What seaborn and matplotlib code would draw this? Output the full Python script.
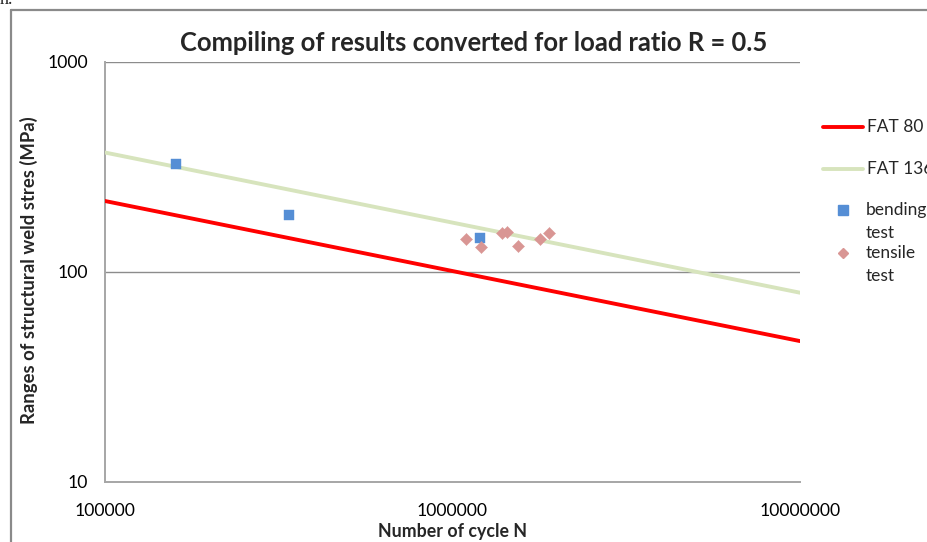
import matplotlib
matplotlib.use("Agg")
import matplotlib.pyplot as plt
from matplotlib.lines import Line2D
import seaborn as sns
import pandas as pd

# S-N design curves (end points over the plotted cycle range)
fat_cycles = [1e5, 1e7]
fat80_stress = [217.0, 46.8]
fat136_stress = [369.0, 79.5]

# Test results
bending_cycles = [160000, 338000, 1200000]
bending_stress = [324, 187, 144]
tensile_cycles = [1094000, 1208000, 1387000, 1435000, 1542000, 1786000, 1897000]
tensile_stress = [142.7, 130.6, 152.4, 154.2, 132.1, 142.7, 152.4]

x_ticks = [1e5, 1e6, 1e7]
x_tick_labels = ["100000", "1000000", "10000000"]
y_ticks = [10, 100, 1000]
y_tick_labels = ["10", "100", "1000"]

RED = "#FF0000"
GREEN = "#D7E4BD"
BLUE = "#558ED5"
PINK = "#D99694"
GRID = "#8C8C8C"
FONT = ["Lato", "DejaVu Sans"]

sns.set_style("white")
plt.rcParams["font.family"] = FONT

fig = plt.figure(figsize=(9.28, 5.42), dpi=100)
ax = fig.add_axes([105 / 928, 1 - 482 / 542, 695 / 928, (482 - 61.5) / 542])
ax.set_xscale("log")
ax.set_yscale("log")

curves = pd.DataFrame({
    "N": fat_cycles + fat_cycles,
    "S": fat80_stress + fat136_stress,
    "curve": ["FAT 80"] * 2 + ["FAT 136"] * 2,
})
sns.lineplot(data=curves, x="N", y="S", hue="curve",
             palette={"FAT 80": RED, "FAT 136": GREEN},
             linewidth=2.8, legend=False, ax=ax, zorder=3)

sns.scatterplot(x=bending_cycles, y=bending_stress, marker="s", s=55,
                color=BLUE, edgecolor=BLUE, linewidth=0.3, ax=ax, zorder=4)
sns.scatterplot(x=tensile_cycles, y=tensile_stress, marker="D", s=38,
                color=PINK, edgecolor=PINK, linewidth=0.3, ax=ax, zorder=4)

ax.set_xlim(1e5, 1e7)
ax.set_ylim(10, 1000)
ax.set_xticks(x_ticks)
ax.set_xticklabels(x_tick_labels)
ax.set_yticks(y_ticks)
ax.set_yticklabels(y_tick_labels)
ax.minorticks_off()
ax.tick_params(axis="both", length=0, labelsize=12.7, colors="black")
ax.tick_params(axis="x", pad=15)
ax.tick_params(axis="y", pad=12)

ax.grid(False)
for y in y_ticks[1:]:
    ax.axhline(y, color=GRID, linewidth=1.0, zorder=1)
for side in ("top", "right"):
    ax.spines[side].set_visible(False)
for side in ("left", "bottom"):
    ax.spines[side].set_color("#A6A6A6")
    ax.spines[side].set_linewidth(1.4)

ax.set_xlabel("")
ax.set_ylabel("")
fig.text(453 / 928, 1 - 532 / 542, "Number of cycle N", ha="center", va="center",
         fontsize=12.8, fontweight="bold")
fig.text(29 / 928, 1 - 270 / 542, "Ranges of structural weld stres (MPa)",
         ha="center", va="center", rotation=90, fontsize=13.3, fontweight="bold")
fig.text(474 / 928, 1 - 43 / 542, "Compiling of results converted for load ratio R = 0.5",
         ha="center", va="center", fontsize=18.4, fontweight="bold")

# Legend, laid out by hand to the right of the plot area
def fx(px):
    return px / 928

def fy(py):
    return 1 - py / 542

for ypx, col, lab in [(127, RED, "FAT 80"), (169, GREEN, "FAT 136")]:
    fig.add_artist(Line2D([fx(823), fx(863)], [fy(ypx), fy(ypx)], color=col,
                          linewidth=2.8, transform=fig.transFigure))
    fig.text(fx(867), fy(ypx), lab, ha="left", va="center", fontsize=12.5)

for ypx, col, mk, ms, lab in [(210, BLUE, "s", 7.4, "bending"), (253, PINK, "D", 5.6, "tensile")]:
    fig.add_artist(Line2D([fx(843)], [fy(ypx)], marker=mk, markersize=ms, color=col,
                          linestyle="none", transform=fig.transFigure))
    fig.text(fx(866), fy(ypx), lab, ha="left", va="center", fontsize=12.5)
    fig.text(fx(866), fy(ypx + 23), "test", ha="left", va="center", fontsize=12.5)

# Outer chart frame
frame_kw = dict(color="#8A8A8A", linewidth=1.6, transform=fig.transFigure)
fig.add_artist(Line2D([fx(11), 1.0], [fy(10), fy(10)], **frame_kw))
fig.add_artist(Line2D([fx(11), fx(11)], [fy(10), 0.0], **frame_kw))

# Trailing text from the surrounding page
fig.text(fx(0), fy(4), "n.", ha="left", va="baseline", fontsize=13,
         family=["Liberation Serif", "DejaVu Serif"])

fig.savefig("out.png", dpi=100)
